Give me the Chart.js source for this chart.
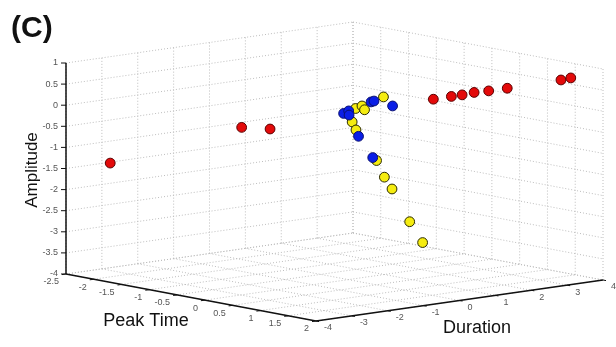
<!DOCTYPE html>
<html>
<head>
<meta charset="utf-8">
<script src="https://cdn.jsdelivr.net/npm/chart.js@4/dist/chart.umd.min.js"></script>
<style>
html,body{margin:0;padding:0;background:#fff;}
#wrap{width:616px;height:347px;position:relative;}
</style>
</head>
<body>
<div id="wrap"><canvas id="c" width="616" height="347"></canvas></div>
<script>
// ---- Data (Peak Time, Duration, Amplitude) ----
const redPeakTime  = [-2.13, -1.03, -0.79, 0.58, 0.73, 0.82, 0.92, 1.04, 1.20, 1.65, 1.73];
const redDuration  = [-3.34, -1.38, -0.96, 1.47, 1.74, 1.90, 2.08, 2.30, 2.57, 3.37, 3.52];
const redAmplitude = [-1.36, -0.48, -0.51, 0.24, 0.31, 0.35, 0.41, 0.45, 0.52, 0.73, 0.78];

const bluePeakTime  = [-0.17, -0.13, -0.13, 0.06, 0.08, 0.24, -0.05, 0.07];
const blueDuration  = [0.13, 0.21, 0.22, 0.54, 0.59, 0.86, 0.36, 0.57];
const blueAmplitude = [-0.12, -0.06, -0.16, 0.16, 0.18, 0.07, -0.66, -1.16];

const yellowPeakTime  = [0.16, -0.07, -0.02, 0.00, -0.10, -0.07, 0.10, 0.17, 0.23, 0.38, 0.49];
const yellowDuration  = [0.73, 0.31, 0.41, 0.45, 0.26, 0.32, 0.63, 0.74, 0.86, 1.12, 1.31];
const yellowAmplitude = [0.28, 0.00, 0.06, -0.03, -0.32, -0.51, -1.23, -1.62, -1.90, -2.67, -3.16];

// ---- Tick labels ----
const peakTimeTicks  = [-2.5, -2, -1.5, -1, -0.5, 0, 0.5, 1, 1.5, 2];
const durationTicks  = [-4, -3, -2, -1, 0, 1, 2, 3, 4];
const amplitudeTicks = [1, 0.5, 0, -0.5, -1, -1.5, -2, -2.5, -3, -3.5, -4];

// ---- 3D view (projection of the box onto the page) ----
const PT_MIN = -2.5, PT_MAX = 2, DU_MIN = -4, DU_MAX = 4, AM_MIN = -4, AM_MAX = 1;
const ORIGIN = {x: 66, y: 274};                   // (PT_MIN, DU_MIN, AM_MIN)
const V_PT = {x: 250 / 4.5, y: 47 / 4.5};         // per unit of Peak Time
const V_DU = {x: 287 / 8, y: -41 / 8};            // per unit of Duration
const V_AM = {x: 0, y: -211 / 5};                 // per unit of Amplitude

function proj(pt, du, am) {
  const a = pt - PT_MIN, b = du - DU_MIN, c = am - AM_MIN;
  return {x: ORIGIN.x + a * V_PT.x + b * V_DU.x + c * V_AM.x,
          y: ORIGIN.y + a * V_PT.y + b * V_DU.y + c * V_AM.y};
}

function points(p, d, a) { return p.map((v, i) => proj(v, d[i], a[i])); }

// ---- grid lines on back walls and floor ----
const gridSets = [];
function seg(p1, p2) {
  gridSets.push({
    type: 'line', data: [proj(...p1), proj(...p2)],
    borderColor: '#bdbdbd', borderWidth: 1, borderDash: [1, 2],
    pointRadius: 0, fill: false, tension: 0, order: 10
  });
}
// left wall (Peak Time = min)
durationTicks.forEach(d => seg([PT_MIN, d, AM_MIN], [PT_MIN, d, AM_MAX]));
amplitudeTicks.forEach(a => seg([PT_MIN, DU_MIN, a], [PT_MIN, DU_MAX, a]));
// right wall (Duration = max)
peakTimeTicks.forEach(p => seg([p, DU_MAX, AM_MIN], [p, DU_MAX, AM_MAX]));
amplitudeTicks.forEach(a => seg([PT_MIN, DU_MAX, a], [PT_MAX, DU_MAX, a]));
// floor (Amplitude = min)
peakTimeTicks.forEach(p => seg([p, DU_MIN, AM_MIN], [p, DU_MAX, AM_MIN]));
durationTicks.forEach(d => seg([PT_MIN, d, AM_MIN], [PT_MAX, d, AM_MIN]));

// ---- main axes ----
const axisSets = [
  [[PT_MIN, DU_MIN, AM_MIN], [PT_MIN, DU_MIN, AM_MAX]],
  [[PT_MIN, DU_MIN, AM_MIN], [PT_MAX, DU_MIN, AM_MIN]],
  [[PT_MAX, DU_MIN, AM_MIN], [PT_MAX, DU_MAX, AM_MIN]]
].map(s => ({
  type: 'line', data: [proj(...s[0]), proj(...s[1])],
  borderColor: '#111', borderWidth: 1.5, pointRadius: 0, fill: false, order: 5
}));

const scatterSets = [
  {label: 'blue', data: points(bluePeakTime, blueDuration, blueAmplitude),
   backgroundColor: '#0a1ee6', borderColor: '#0a1070', order: 1},
  {label: 'yellow', data: points(yellowPeakTime, yellowDuration, yellowAmplitude),
   backgroundColor: '#f5ec10', borderColor: '#2a2a00', order: 2},
  {label: 'red', data: points(redPeakTime, redDuration, redAmplitude),
   backgroundColor: '#e30a0a', borderColor: '#5a0000', order: 3}
].map(s => Object.assign(s, {type: 'scatter', pointRadius: 4.9, borderWidth: 1, showLine: false}));

const labelPlugin = {
  id: 'labels3d',
  afterDatasetsDraw(chart) {
    const ctx = chart.ctx;
    ctx.save();
    ctx.strokeStyle = '#111';
    ctx.lineWidth = 1;
    ctx.fillStyle = '#555';
    ctx.font = '9px "Liberation Sans", Arial, sans-serif';
    // amplitude ticks
    ctx.textAlign = 'right'; ctx.textBaseline = 'middle';
    amplitudeTicks.forEach(a => {
      const p = proj(PT_MIN, DU_MIN, a);
      ctx.beginPath(); ctx.moveTo(p.x - 5, p.y); ctx.lineTo(p.x, p.y); ctx.stroke();
      ctx.fillText(String(a), p.x - 8, p.y);
    });
    // peak time ticks
    peakTimeTicks.forEach(v => {
      const p = proj(v, DU_MIN, AM_MIN);
      ctx.beginPath(); ctx.moveTo(p.x, p.y); ctx.lineTo(p.x - 4, p.y + 0.6); ctx.stroke();
      ctx.fillText(String(v), p.x - 7, p.y + 8);
    });
    // duration ticks
    ctx.textAlign = 'left';
    durationTicks.forEach(v => {
      const p = proj(PT_MAX, v, AM_MIN);
      ctx.beginPath(); ctx.moveTo(p.x, p.y); ctx.lineTo(p.x + 3, p.y + 0.6); ctx.stroke();
      ctx.fillText(String(v), p.x + 8, p.y + 7);
    });
    // axis titles
    ctx.fillStyle = '#111';
    ctx.textAlign = 'center'; ctx.textBaseline = 'middle';
    ctx.font = '18px "Liberation Sans", Arial, sans-serif';
    ctx.fillText('Peak Time', 146, 321);
    ctx.fillText('Duration', 477, 328);
    ctx.save();
    ctx.translate(32, 170); ctx.rotate(-Math.PI / 2);
    ctx.font = '17px "Liberation Sans", Arial, sans-serif';
    ctx.fillText('Amplitude', 0, 0);
    ctx.restore();
    // panel letter
    ctx.font = 'bold 30px "Liberation Sans", Arial, sans-serif';
    ctx.textAlign = 'left';
    ctx.fillText('(C)', 11, 29);
    ctx.restore();
  }
};

new Chart(document.getElementById('c'), {
  type: 'scatter',
  data: {datasets: [...scatterSets, ...axisSets, ...gridSets]},
  options: {
    responsive: false, animation: false,
    layout: {padding: 0, autoPadding: false},
    plugins: {legend: {display: false}, tooltip: {enabled: false}},
    scales: {
      x: {type: 'linear', display: false, min: 0, max: 616},
      y: {type: 'linear', display: false, min: 0, max: 347, reverse: true}
    }
  },
  plugins: [labelPlugin]
});
</script>
</body>
</html>
